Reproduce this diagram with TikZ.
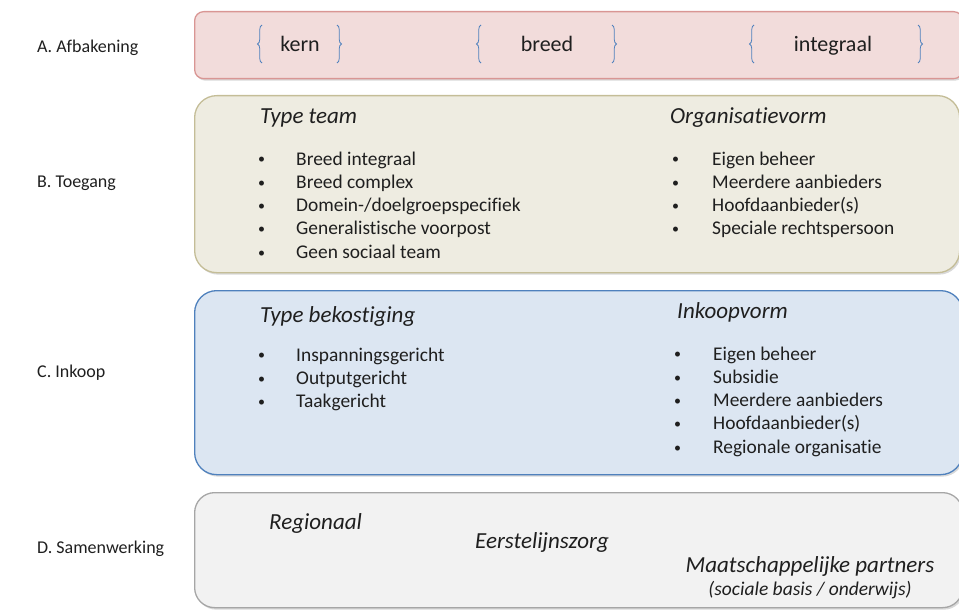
\documentclass[tikz,border=0pt]{standalone}
\usepackage{fontspec}
\setmainfont{Carlito}[Ligatures=NoCommon]
\usetikzlibrary{shadows,decorations.pathreplacing}
\definecolor{txt}{HTML}{1F1F1F}
\definecolor{fillA}{HTML}{F2DCDB}
\definecolor{lineA}{HTML}{D99694}
\definecolor{fillB}{HTML}{EEECE1}
\definecolor{lineB}{HTML}{C4BD97}
\definecolor{fillC}{HTML}{DCE6F2}
\definecolor{lineC}{HTML}{4F81BD}
\definecolor{fillD}{HTML}{F2F2F2}
\definecolor{lineD}{HTML}{A6A6A6}
\definecolor{bracecol}{HTML}{4F81BD}
\newcommand{\bul}{\raisebox{1.2pt}{\fontsize{14}{14}\selectfont•}}
\begin{document}
\begin{tikzpicture}[x=1pt,y=-1pt,
  panel/.style={anchor=north west, inner sep=0pt, line width=1.3pt,
    drop shadow={opacity=0.3, shadow xshift=1.5pt, shadow yshift=-2pt}},
  lab/.style={anchor=base west, inner sep=0pt, text=txt, font=\fontsize{18}{21}\selectfont},
  head/.style={anchor=base west, inner sep=0pt, text=txt, font=\fontsize{23}{27}\selectfont\itshape},
  item/.style={anchor=base west, inner sep=0pt, text=txt, font=\fontsize{19.4}{23}\selectfont},
  scopeword/.style={anchor=base, inner sep=0pt, text=txt, font=\fontsize{22}{26}\selectfont},
  bracestyle/.style={draw=bracecol, line width=0.8pt, decorate, decoration={brace, amplitude=4.5pt, aspect=0.5}}
]
\useasboundingbox (0,0) rectangle (959,610);

% panels
\node[panel, draw=lineA, fill=fillA, rounded corners=9pt, minimum width=768pt, minimum height=67pt] (pA) at (194,11) {};
\node[panel, draw=lineB, fill=fillB, rounded corners=22pt, minimum width=765pt, minimum height=177pt] (pB) at (194,95) {};
\node[panel, draw=lineC, fill=fillC, rounded corners=22pt, minimum width=768pt, minimum height=184pt] (pC) at (194,290) {};
\node[panel, draw=lineD, fill=fillD, rounded corners=20pt, minimum width=768pt, minimum height=115pt] (pD) at (194,492) {};

% left labels
\node[lab] (lA) at (37,53) {A. Afbakening};
\node[lab] (lB) at (37,187) {B. Toegang};
\node[lab] (lC) at (37,377) {C. Inkoop};
\node[lab] (lD) at (37,553) {D. Samenwerking};

% A: scope words with braces
\node[scopeword] (kern) at (300,52) {kern};
\node[scopeword] (breed) at (547,52) {breed};
\node[scopeword] (integraal) at (833,52) {integraal};
\draw[bracestyle] (262,63) -- (262,25);
\draw[bracestyle] (337,25) -- (337,63);
\draw[bracestyle] (481,63) -- (481,25);
\draw[bracestyle] (612,25) -- (612,63);
\draw[bracestyle] (754,63) -- (754,25);
\draw[bracestyle] (918,25) -- (918,63);

% B
\node[head] (hTeam) at (260,124) {Type team};
\node[head] (hOrg) at (670,124) {Organisatievorm};
\foreach \t [count=\i from 0] in {Breed integraal, Breed complex, Domein-/doelgroepspecifiek, Generalistische voorpost, Geen sociaal team}
  \node[item] (bt\i) at (258,165+23.3*\i) {\makebox[38pt][l]{\bul}\t};
\foreach \t [count=\i from 0] in {Eigen beheer, Meerdere aanbieders, Hoofdaanbieder(s), Speciale rechtspersoon}
  \node[item] (bo\i) at (672,165+23.3*\i) {\makebox[40pt][l]{\bul}\t};

% C
\node[head] (hBek) at (260,322) {Type bekostiging};
\node[head] (hInk) at (677,318) {Inkoopvorm};
\foreach \t [count=\i from 0] in {Inspanningsgericht, Outputgericht, Taakgericht}
  \node[item] (cb\i) at (258,361+23.3*\i) {\makebox[38pt][l]{\bul}\t};
\foreach \t [count=\i from 0] in {Eigen beheer, Subsidie, Meerdere aanbieders, Hoofdaanbieder(s), Regionale organisatie}
  \node[item] (ci\i) at (674,360+23.3*\i) {\makebox[39pt][l]{\bul}\t};

% D
\node[head] (dReg) at (269,529) {Regionaal};
\node[head] (dEer) at (475,548) {Eerstelijnszorg};
\node[head, anchor=base] (dMaat) at (810,572) {Maatschappelijke partners};
\node[anchor=base, inner sep=0pt, text=txt, font=\fontsize{19.5}{23}\selectfont\itshape] (dSoc) at (810,595) {(sociale basis / onderwijs)};
\end{tikzpicture}
\end{document}
